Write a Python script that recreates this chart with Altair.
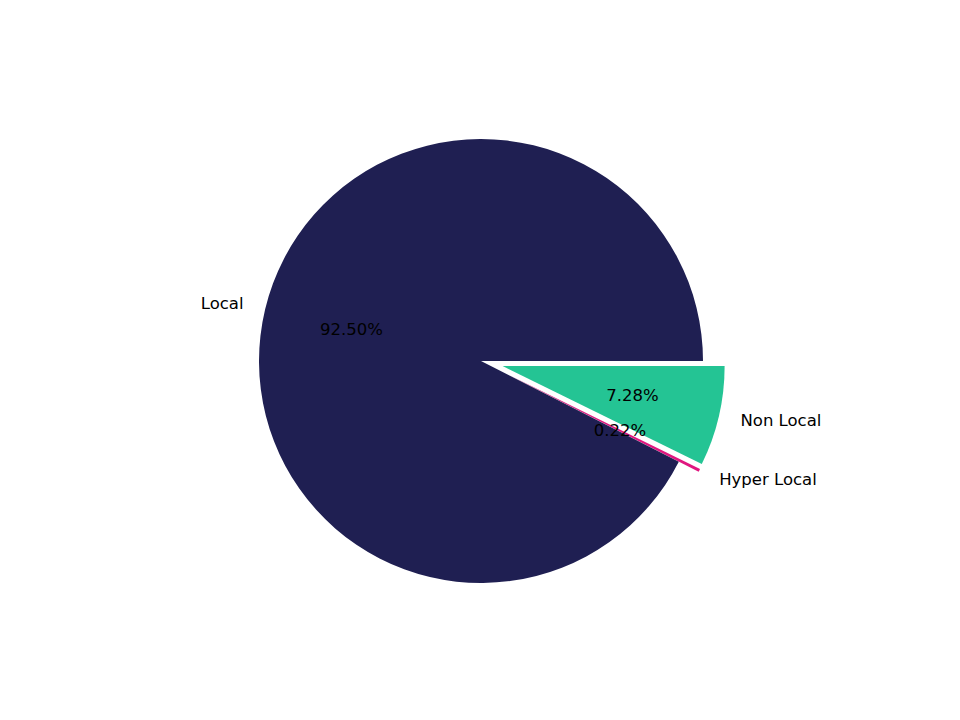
import math
import altair as alt
import pandas as pd

labels = ["Non Local", "Hyper Local", "Local"]
values = [7.28, 0.22, 92.50]
colors = ["#24c494", "#e0177f", "#1f1f52"]
explode = [0.1, 0.1, 0.0]
order = [0, 1, 2]

df = pd.DataFrame({"label": labels, "value": values, "explode": explode, "order": order,
                   "pct": [f"{v:.2f}%" for v in values]})

W, H, R = 944, 704, 222
CX, CY = 473, 353

base = alt.Chart(df).transform_window(
    cum_end="sum(value)", sort=[alt.SortField("order")], frame=[None, 0]
).transform_calculate(
    cum_start="datum.cum_end - datum.value",
    ang="-2*PI*(datum.cum_end - datum.value/2)/100",
).transform_calculate(
    cx="datum.explode*cos(datum.ang)",
    cy="datum.explode*sin(datum.ang)",
).transform_calculate(
    lx="datum.cx + 1.1*cos(datum.ang)",
    ly="datum.cy + 1.1*sin(datum.ang)",
    px="datum.cx + 0.6*cos(datum.ang)",
    py="datum.cy + 0.6*sin(datum.ang)",
    side="cos(datum.ang) >= 0 ? 'L' : 'R'",
)

xs = alt.Scale(domain=[-CX / R, (W - CX) / R], nice=False, zero=False)
ys = alt.Scale(domain=[-(H - CY) / R, CY / R], nice=False, zero=False)

arcs = base.mark_arc(radius=R).encode(
    x=alt.X("cx:Q", scale=xs, axis=None),
    y=alt.Y("cy:Q", scale=ys, axis=None),
    theta=alt.Theta("cum_start:Q", scale=alt.Scale(domain=[0, 100], range=[math.pi / 2, math.pi / 2 + 2 * math.pi])),
    theta2="cum_end:Q",
    color=alt.Color("label:N", scale=alt.Scale(domain=labels, range=colors), legend=None),
)

font = "DejaVu Sans"
fs = 16.5

lab_left = base.transform_filter("datum.side == 'L'").mark_text(
    align="left", baseline="middle", font=font, fontSize=fs, color="black"
).encode(x=alt.X("lx:Q", scale=xs, axis=None), y=alt.Y("ly:Q", scale=ys, axis=None), text="label:N")

lab_right = base.transform_filter("datum.side == 'R'").mark_text(
    align="right", baseline="middle", font=font, fontSize=fs, color="black"
).encode(x=alt.X("lx:Q", scale=xs, axis=None), y=alt.Y("ly:Q", scale=ys, axis=None), text="label:N")

pcts = base.mark_text(
    align="center", baseline="middle", font=font, fontSize=fs, color="black"
).encode(x=alt.X("px:Q", scale=xs, axis=None), y=alt.Y("py:Q", scale=ys, axis=None), text="pct:N")

chart = alt.layer(arcs, lab_left, lab_right, pcts).properties(
    width=W, height=H, padding=0, background="white"
).configure_view(stroke=None)

chart.save("out.html", embed_options={"renderer": "svg", "actions": False})
